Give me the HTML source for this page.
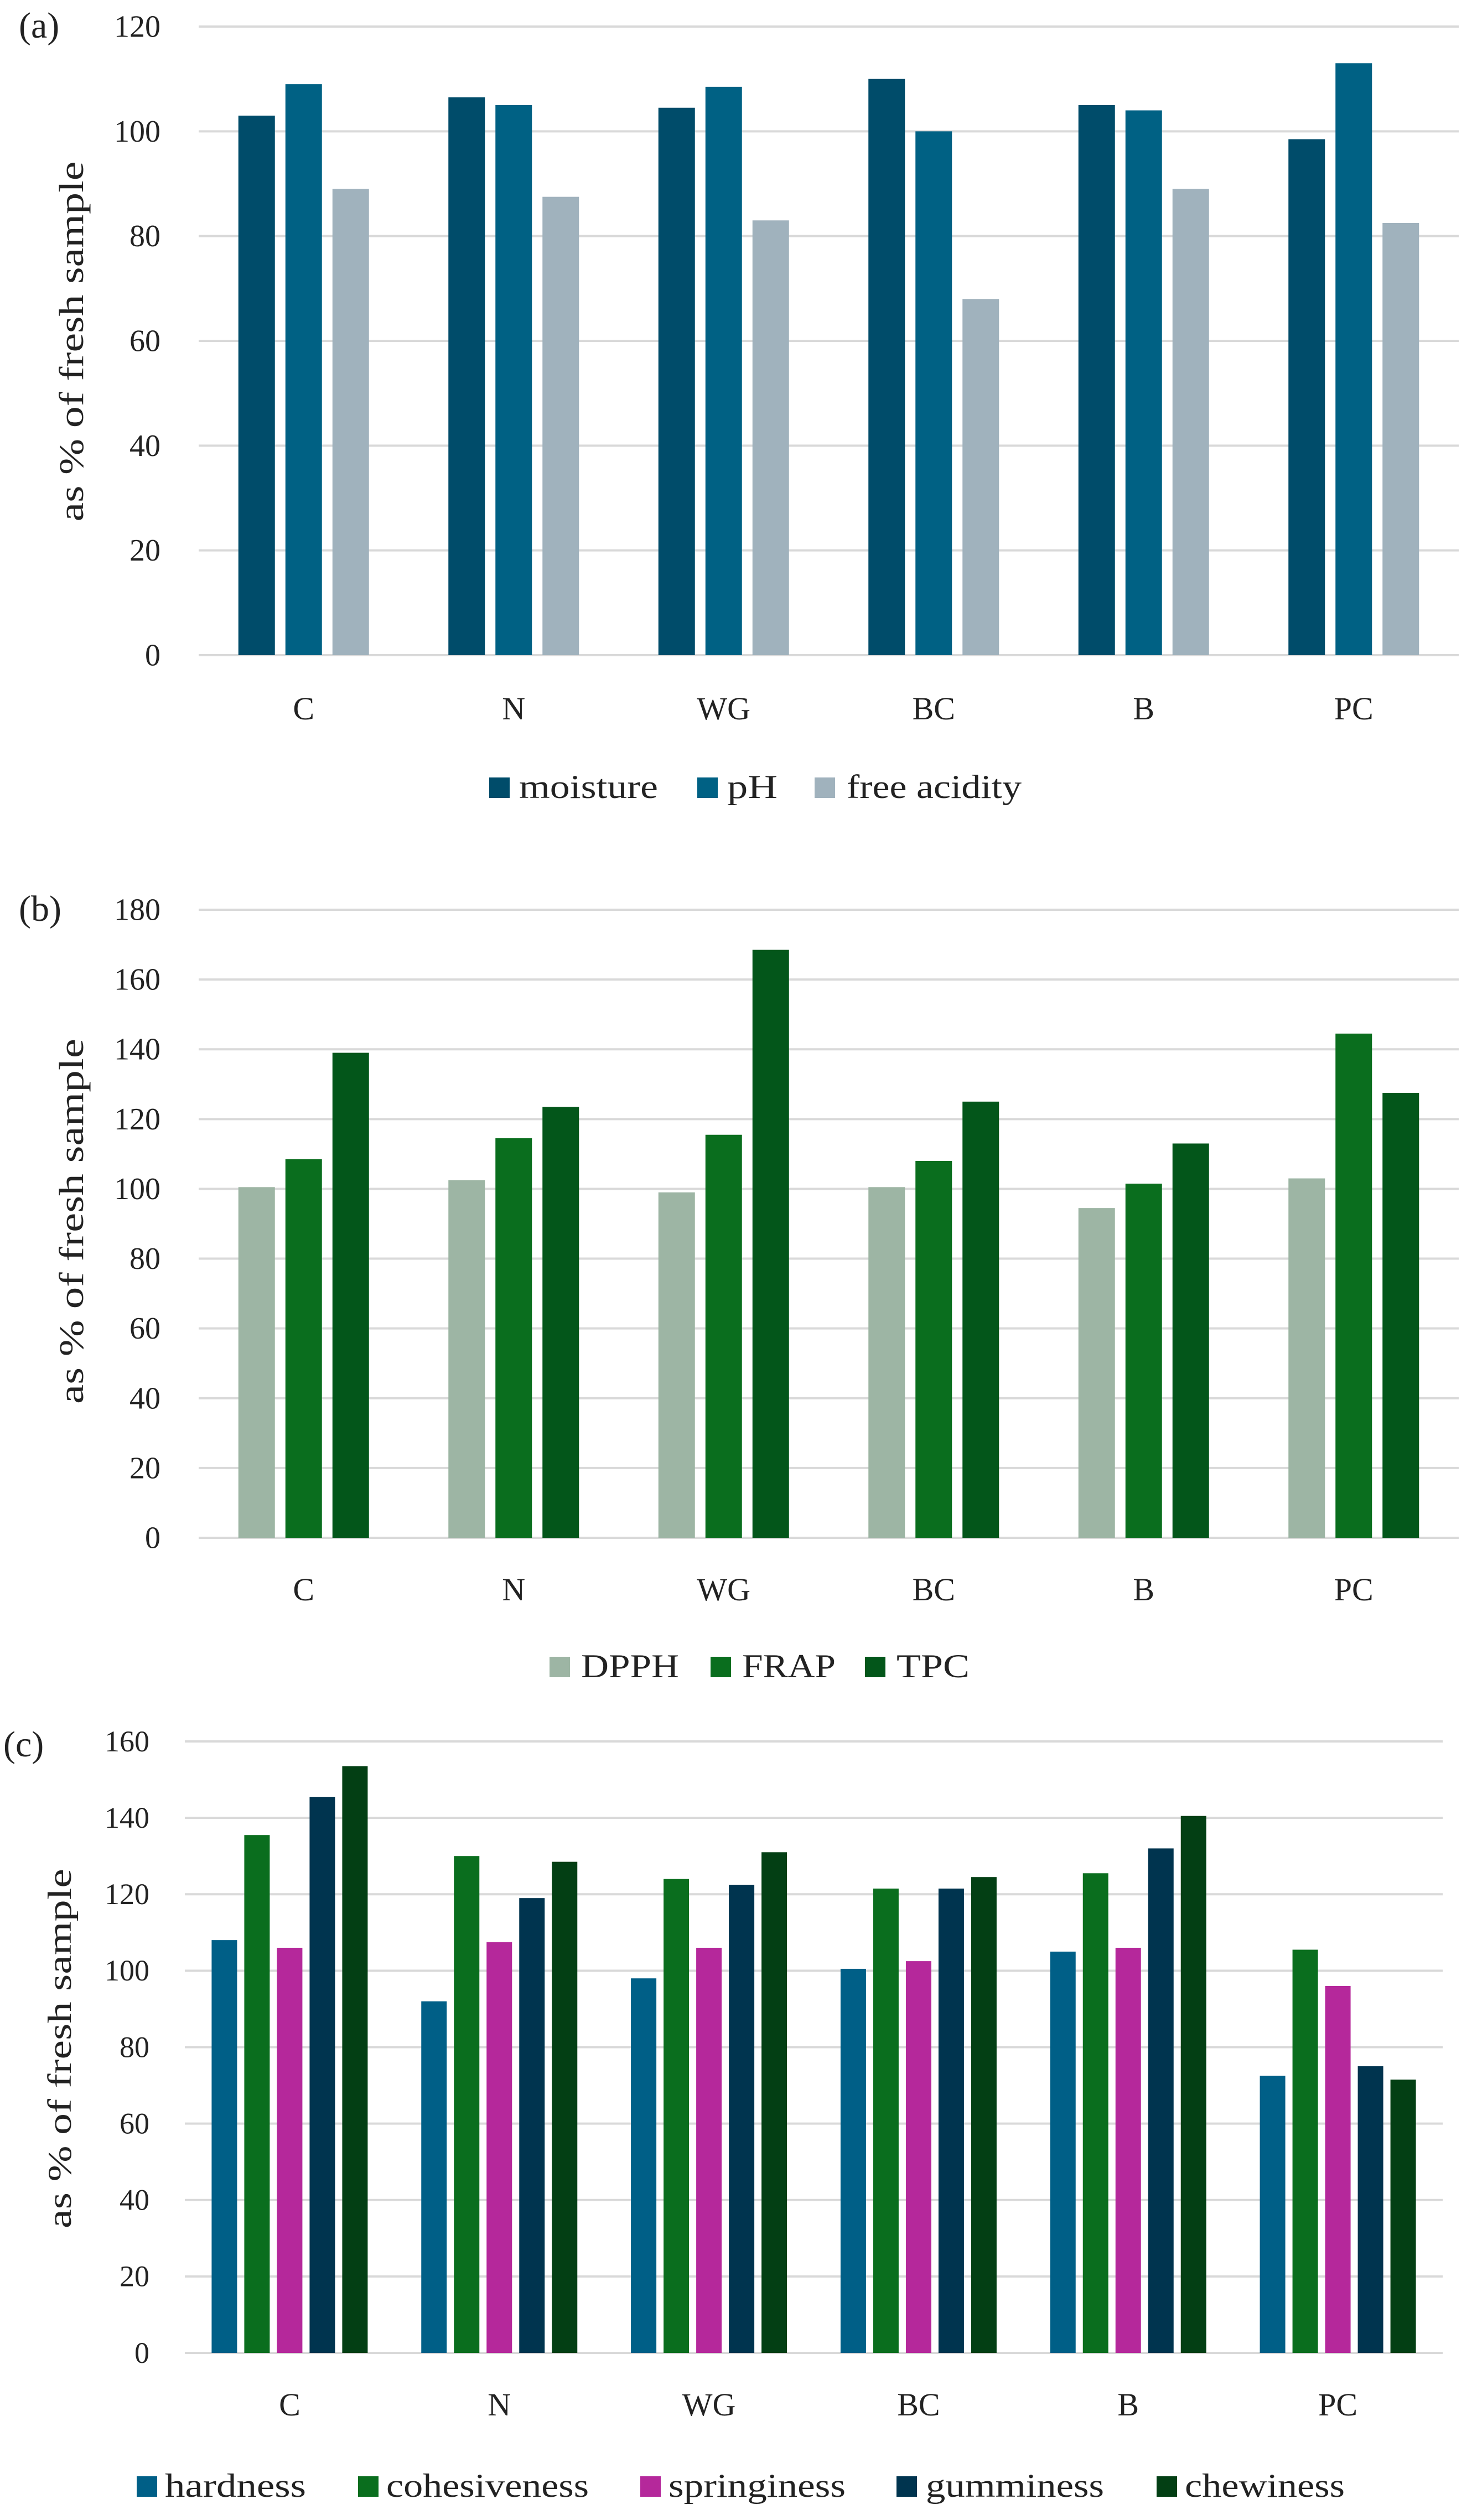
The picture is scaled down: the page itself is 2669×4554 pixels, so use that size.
<!DOCTYPE html>
<html><head><meta charset="utf-8"><style>
html,body{margin:0;padding:0;background:#fff;}
svg{display:block;font-family:"Liberation Serif",serif;}
</style></head><body>
<svg id="fig" width="2669" height="4554" viewBox="0 0 2669 4554" xmlns="http://www.w3.org/2000/svg"></svg>
<script>
const categories = ["C","N","WG","BC","B","PC"];

const aSeries = ["moisture","pH","free acidity"];
const aMoisture = [103,106.5,104.5,110,105,98.5];
const aPH = [109,105,108.5,100,104,113];
const aAcidity = [89,87.5,83,68,89,82.5];
const aTicks = [0,20,40,60,80,100,120];

const bSeries = ["DPPH","FRAP","TPC"];
const bDPPH = [100.5,102.5,99,100.5,94.5,103];
const bFRAP = [108.5,114.5,115.5,108,101.5,144.5];
const bTPC = [139,123.5,168.5,125,113,127.5];
const bTicks = [0,20,40,60,80,100,120,140,160,180];

const cSeries = ["hardness","cohesiveness","springiness","gumminess","chewiness"];
const cHardness = [108,92,98,100.5,105,72.5];
const cCohesiveness = [135.5,130,124,121.5,125.5,105.5];
const cSpringiness = [106,107.5,106,102.5,106,96];
const cGumminess = [145.5,119,122.5,121.5,132,75];
const cChewiness = [153.5,128.5,131,124.5,140.5,71.5];
const cTicks = [0,20,40,60,80,100,120,140,160];

const NS="http://www.w3.org/2000/svg";
const svg=document.getElementById('fig');
function mk(tag,attrs,parent){const e=document.createElementNS(NS,tag);for(const k in attrs)e.setAttribute(k,attrs[k]);(parent||svg).appendChild(e);return e;}

function chart(cfg){
  const g=mk('g',{});
  
  
  const maxV=cfg.ticks[cfg.ticks.length-1];
  const y=v=>cfg.y0-(v/maxV)*(cfg.y0-cfg.yTop);
  const pitch=(cfg.x1-cfg.x0)/categories.length;
  const cx=i=>cfg.x0+pitch*(i+0.5);
  cfg.ticks.forEach(t=>{
    const l=mk('line',{x1:cfg.x0,x2:cfg.x1,y1:y(t),y2:y(t),stroke:'#d9d9d9','stroke-width':4},g);
    
    
    const tx=mk('text',{x:cfg.tickX,y:y(t)+cfg.tickFs*0.33,'font-size':cfg.tickFs,'text-anchor':'end',fill:'#222'},g);
    tx.textContent=t;
    
    
  });
  const n=cfg.values.length;
  const step=cfg.barW+cfg.gap;
  const gw=n*cfg.barW+(n-1)*cfg.gap;
  categories.forEach((c,i)=>{
    cfg.values.forEach((arr,s)=>{
      const x=cx(i)-gw/2+s*step;
      const r=mk('rect',{x:x,y:y(arr[i]),width:cfg.barW,height:y(0)-y(arr[i]),fill:cfg.colors[s]},g);
      
      
    });
    const t=mk('text',{x:cx(i),y:cfg.catY,'font-size':cfg.catFs,'text-anchor':'middle',fill:'#222'},g);
    t.textContent=c;
    
    
  });
  const yt=mk('text',{x:0,y:0,'font-size':cfg.titleFs,'text-anchor':'middle',fill:'#222',textLength:cfg.titleLen,lengthAdjust:'spacingAndGlyphs',transform:`translate(${cfg.titleX},${cfg.titleY}) rotate(-90)`},g);
  yt.textContent='as % of fresh sample';
  
  
  const pl=mk('text',{x:cfg.panelX,y:cfg.panelY,'font-size':cfg.panelFs,fill:'#222'},g);
  pl.textContent=cfg.panel;
  
  
  cfg.legend.forEach((L,s)=>{
    const sq=mk('rect',{x:L[0],y:cfg.legY-cfg.sq,width:cfg.sq,height:cfg.sq,fill:cfg.colors[s]},g);
    
    
    const lt=mk('text',{x:L[1],y:cfg.legY,'font-size':cfg.legFs,fill:'#222',textLength:L[2]-L[1],lengthAdjust:'spacingAndGlyphs'},g);
    lt.textContent=cfg.series[s];
    
    
  });
}

chart({name:'chart-a',panel:'(a)',series:aSeries,values:[aMoisture,aPH,aAcidity],ticks:aTicks,
 colors:['#004c6a','#006184','#a0b2bd'],x0:359,x1:2636,yTop:48,y0:1184,barW:66,gap:19,
 tickX:290,tickFs:56,catY:1300,catFs:58,titleX:150,titleY:617,titleLen:651,titleFs:62,
 panelX:34,panelY:68,panelFs:66,legY:1442,sq:37,legFs:60,
 legend:[[884,938,1189],[1260,1314,1405],[1472,1530,1846]]});

chart({name:'chart-b',panel:'(b)',series:bSeries,values:[bDPPH,bFRAP,bTPC],ticks:bTicks,
 colors:['#9db5a4','#0a6e1e','#03561a'],x0:359,x1:2636,yTop:1644,y0:2779,barW:66,gap:19,
 tickX:290,tickFs:56,catY:2892,catFs:58,titleX:150,titleY:2207,titleLen:660,titleFs:62,
 panelX:34,panelY:1664,panelFs:66,legY:3031,sq:37,legFs:60,
 legend:[[993,1050,1227],[1284,1341,1510],[1563,1620,1752]]});

chart({name:'chart-c',panel:'(c)',series:cSeries,values:[cHardness,cCohesiveness,cSpringiness,cGumminess,cChewiness],ticks:cTicks,
 colors:['#005f87','#0a6e1e','#b5289b','#00344f','#033f14'],x0:334,x1:2607,yTop:3147,y0:4252,barW:46,gap:13,
 tickX:270,tickFs:54,catY:4365,catFs:58,titleX:128,titleY:3702,titleLen:650,titleFs:60,
 panelX:6,panelY:3174,panelFs:66,legY:4512,sq:37,legFs:60,
 legend:[[247,298,553],[647,698,1064],[1157,1208,1528],[1620,1673,1995],[2090,2141,2430]]});
</script>
</body></html>
